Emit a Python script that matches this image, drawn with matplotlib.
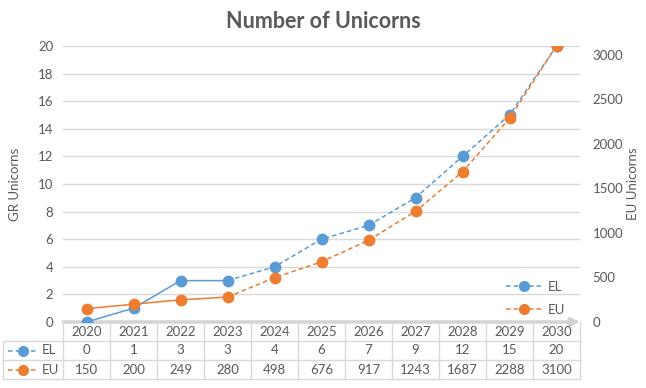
import matplotlib.pyplot as plt
from matplotlib.lines import Line2D

plt.rcParams['font.family'] = ['Lato', 'DejaVu Sans']

years = ['2020', '2021', '2022', '2023', '2024', '2025', '2026', '2027', '2028', '2029', '2030']
el_values = [0, 1, 3, 3, 4, 6, 7, 9, 12, 15, 20]
eu_values = [150, 200, 249, 280, 498, 676, 917, 1243, 1687, 2288, 3100]
solid_until = 3  # index of last point drawn with a solid line

blue = '#5B9BD5'
orange = '#ED7D31'
grey_txt = '#595959'
grid_c = '#D9D9D9'

fig = plt.figure(figsize=(6.46, 3.88), dpi=100)
ax = fig.add_axes([63 / 646, 1 - 322 / 388, 517 / 646, 276 / 388])
ax2 = ax.twinx()

x = list(range(len(years)))

# EL on left axis
ax.plot(x[:solid_until + 1], el_values[:solid_until + 1], color=blue, lw=1.1, zorder=3)
ax.plot(x[solid_until:], el_values[solid_until:], color=blue, lw=1.1, ls=(0, (3, 2)), zorder=3)
ax.plot(x, el_values, ls='none', marker='o', ms=7.5, color=blue, mec=blue, zorder=4)

# EU on right axis
ax2.plot(x[:solid_until + 1], eu_values[:solid_until + 1], color=orange, lw=1.1, zorder=3)
ax2.plot(x[solid_until:], eu_values[solid_until:], color=orange, lw=1.1, ls=(0, (3, 2)), zorder=3)
ax2.plot(x, eu_values, ls='none', marker='o', ms=7.5, color=orange, mec=orange, zorder=4)

ax.set_xlim(-0.5, len(years) - 0.5)
ax.set_ylim(0, 20)
ax2.set_ylim(0, 3100)
ax.set_yticks(range(0, 21, 2))
ax2.set_yticks(range(0, 3001, 500))
ax.set_xticks([])

for a in (ax, ax2):
    for s in a.spines.values():
        s.set_visible(False)
    a.tick_params(axis='y', length=0, labelsize=9.5, colors=grey_txt)
ax.tick_params(axis='y', pad=7)
ax2.tick_params(axis='y', pad=9)

ax.grid(axis='y', color=grid_c, lw=1)
ax.set_axisbelow(True)

ax.set_ylabel('GR Unicorns', fontsize=9.5, color=grey_txt, labelpad=12)
ax2.set_ylabel('EU Unicorns', fontsize=9.5, color=grey_txt, labelpad=3)

fig.text(0.5, 1 - 21 / 388, 'Number of Unicorns', ha='center', va='center',
         fontsize=15.5, fontweight='bold', color=grey_txt)

# x axis with arrow
ax.annotate('', xy=(1.0, 0), xytext=(0, 0), xycoords='axes fraction',
            arrowprops=dict(arrowstyle='-|>,head_length=0.5,head_width=0.25',
                            color='#D3D3D3', lw=2.5, shrinkA=0, shrinkB=0),
            zorder=2, annotation_clip=False)

# data table below the axis
row_h = 19 / 276
left_edge = (3 - 63) / 517 * len(years) - 0.5
tr = ax.get_xaxis_transform()
n = len(years)
# horizontal lines
for k in (1, 2, 3):
    ax.plot([left_edge, n - 0.5], [-k * row_h] * 2, transform=tr, color=grid_c, lw=1, clip_on=False)
# vertical lines
for i in range(n + 1):
    ax.plot([i - 0.5] * 2, [0, -3 * row_h], transform=tr, color=grid_c, lw=1, clip_on=False)
ax.plot([left_edge] * 2, [-row_h, -3 * row_h], transform=tr, color=grid_c, lw=1, clip_on=False)

for i, yr in enumerate(years):
    ax.text(i, -0.5 * row_h, yr, transform=tr, ha='center', va='center', fontsize=9.5, color=grey_txt)
    ax.text(i, -1.5 * row_h, str(el_values[i]), transform=tr, ha='center', va='center', fontsize=9.5, color=grey_txt)
    ax.text(i, -2.5 * row_h, str(eu_values[i]), transform=tr, ha='center', va='center', fontsize=9.5, color=grey_txt)

# legend keys in the table
for k, (name, col) in enumerate([('EL', blue), ('EU', orange)]):
    yy = -(1.5 + k) * row_h
    kx0 = left_edge + 0.1
    kx1 = left_edge + 0.75
    ax.add_line(Line2D([kx0, kx1], [yy, yy], transform=tr, color=col, lw=1.1,
                       ls=(0, (3, 2)), clip_on=False))
    ax.add_line(Line2D([(kx0 + kx1) / 2], [yy], transform=tr, color=col, marker='o',
                       ms=7, ls='none', clip_on=False))
    ax.text(kx1 + 0.08, yy, name, transform=tr, ha='left', va='center', fontsize=9.5, color=grey_txt)

# legend inside plot
handles = [Line2D([], [], color=blue, lw=1.1, ls=(0, (3, 2)), marker='o', ms=7),
           Line2D([], [], color=orange, lw=1.1, ls=(0, (3, 2)), marker='o', ms=7)]
leg = ax2.legend(handles, ['EL', 'EU'], loc='lower right', bbox_to_anchor=(0.995, -0.02),
                 frameon=False, fontsize=9.5, handlelength=2.8, labelspacing=0.8, handletextpad=0.4)
for t in leg.get_texts():
    t.set_color(grey_txt)

fig.savefig('out.png', dpi=100)
